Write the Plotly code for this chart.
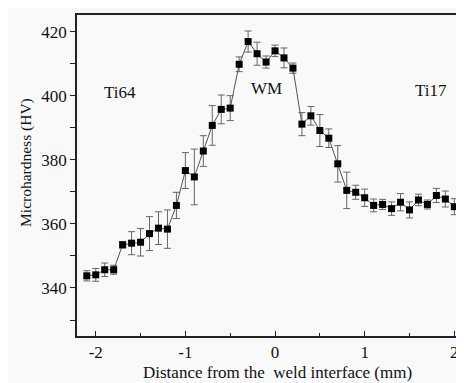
import plotly.graph_objects as go

distance_mm = [-2.1, -2.0, -1.9, -1.8, -1.7, -1.6, -1.5, -1.4, -1.3, -1.2, -1.1,
               -1.0, -0.9, -0.8, -0.7, -0.6, -0.5, -0.4, -0.3, -0.2, -0.1,
               0.0, 0.1, 0.2, 0.3, 0.4, 0.5, 0.6, 0.7, 0.8, 0.9, 1.0,
               1.1, 1.2, 1.3, 1.4, 1.5, 1.6, 1.7, 1.8, 1.9, 2.0, 2.1]
hardness_hv = [343.8, 344.1, 345.7, 345.7, 353.5, 354.0, 354.3, 357.0, 358.7, 358.4, 365.8,
               376.7, 374.7, 382.8, 390.8, 395.8, 396.2, 409.9, 417.0, 413.2, 410.6,
               414.1, 411.9, 408.7, 391.2, 393.8, 389.2, 386.8, 378.8, 370.5, 369.9, 368.2,
               365.8, 366.1, 364.8, 366.8, 364.4, 367.5, 366.1, 368.9, 367.8, 365.4, 365.7]
hardness_err = [1.6, 2.0, 2.1, 1.4, 1.0, 3.6, 4.3, 5.3, 5.1, 6.0, 4.1,
                5.6, 8.7, 4.8, 6.2, 4.5, 3.9, 2.3, 3.3, 3.6, 1.9,
                1.8, 3.1, 1.6, 3.6, 2.9, 5.0, 2.9, 5.7, 5.7, 2.2, 2.7,
                2.0, 1.6, 2.1, 2.7, 2.5, 1.8, 1.4, 2.2, 2.5, 2.5, 2.2]

region_labels = ["Ti64", "WM", "Ti17"]
region_x = [-1.73, -0.1, 1.74]
region_y = [401.0, 402.3, 401.8]

x_ticks = [-2, -1, 0, 1, 2]
y_ticks = [340, 360, 380, 400, 420]

x_title = "Distance from the\u00a0 weld interface (mm)"
y_title = "Microhardness (HV)"

FONT = "Liberation Serif, Times New Roman, serif"
BG = "#f9f9f9"
INK = "#111111"

fig = go.Figure()
fig.add_trace(go.Scatter(
    x=distance_mm, y=hardness_hv,
    mode="lines+markers",
    line=dict(color="#555555", width=1),
    marker=dict(symbol="square", size=7, color="black"),
    error_y=dict(type="data", array=hardness_err, visible=True,
                 color="#666666", thickness=1, width=3.5),
    showlegend=False,
))

for t, xx, yy in zip(region_labels, region_x, region_y):
    fig.add_annotation(x=xx, y=yy, text=t, showarrow=False,
                       font=dict(family=FONT, size=17, color=INK))

# axis titles
fig.add_annotation(xref="paper", yref="paper", x=0.517, y=-0.115,
                   text=x_title, showarrow=False, xanchor="center", yanchor="middle",
                   font=dict(family=FONT, size=17, color=INK))
fig.add_annotation(xref="paper", yref="paper", x=-0.132, y=0.542,
                   text=y_title, showarrow=False, textangle=-90,
                   xanchor="center", yanchor="middle",
                   font=dict(family=FONT, size=15.5, color=INK))

fig.update_layout(
    width=456, height=375,
    margin=dict(l=69, r=0, t=7, b=47),
    paper_bgcolor=BG,
    plot_bgcolor=BG,
    font=dict(family=FONT, size=17, color=INK),
    xaxis=dict(
        range=[-2.209, 2.108],
        automargin=False,
        tickvals=x_ticks, ticktext=[str(v) for v in x_ticks],
        ticks="inside", ticklen=5, tickwidth=1.3, tickcolor="#222222",
        minor=dict(dtick=0.5, ticks="inside", ticklen=3, tickwidth=1.3, tickcolor="#222222"),
        showline=True, linecolor="#222222", linewidth=1.8, mirror=True,
        showgrid=False, zeroline=False,
        tickfont=dict(family=FONT, size=17),
    ),
    yaxis=dict(
        range=[325, 425.3],
        automargin=False,
        tickvals=y_ticks, ticktext=[str(v) for v in y_ticks],
        ticks="outside", ticklen=5, tickwidth=1.3, tickcolor="#222222",
        minor=dict(dtick=10, ticks="outside", ticklen=5, tickwidth=1.3, tickcolor="#222222"),
        showline=True, linecolor="#222222", linewidth=1.8, mirror=False,
        showgrid=False, zeroline=False,
        tickfont=dict(family=FONT, size=17),
    ),
)

fig.write_html("out.html")
